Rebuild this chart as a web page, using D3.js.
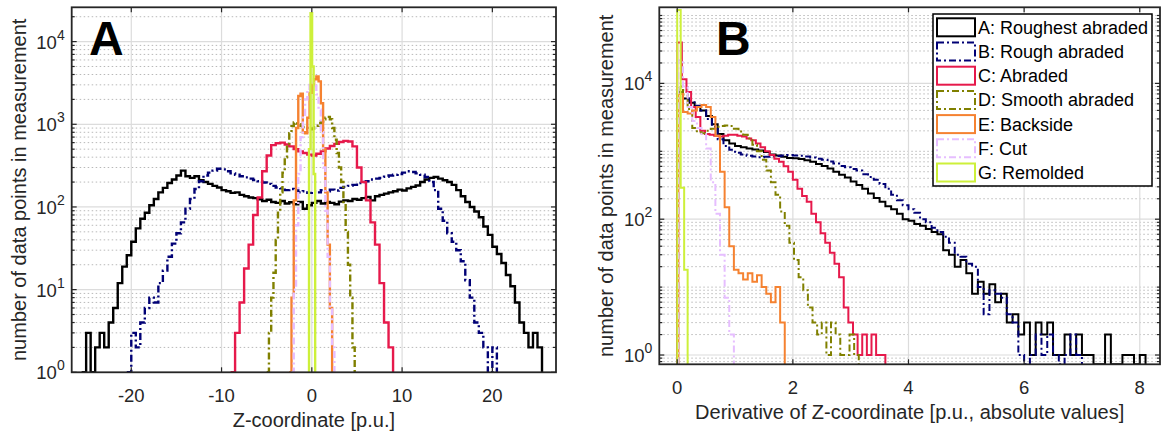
<!DOCTYPE html>
<html>
<head>
<meta charset="utf-8">
<script src="https://cdn.jsdelivr.net/npm/d3@7"></script>
<style>
body { margin: 0; background: #fff; }
svg { display: block; font-family: "Liberation Sans", Arial, sans-serif; }
</style>
</head>
<body>
<svg id="chart" width="1161" height="432"></svg>
<script>
// legend names, one per surface type
var names = ["A: Roughest abraded", "B: Rough abraded", "C: Abraded", "D: Smooth abraded",
             "E: Backside", "F: Cut", "G: Remolded"];

// panel A: histograms of the Z-coordinate (first bin edge, bin width, counts)
var zStart = [-25.5, -20.5, -9, -5, -2.5, -2.25, -0.31];
var zWidth = [0.5, 0.5, 0.5, 0.25, 0.25, 0.25, 0.17];
var zRoughest = [1, 3, 1, 2, 3, 2, 4, 6, 12, 19,
                 26, 38, 55, 72, 85, 105, 125, 150, 170, 195,
                 215, 240, 275, 235, 225, 235, 210, 200, 190, 180,
                 172, 160, 155, 148, 150, 140, 135, 130, 128, 124,
                 118, 122, 115, 112, 118, 110, 114, 108, 115, 95,
                 105, 112, 118, 110, 115, 112, 108, 116, 120, 118,
                 125, 122, 128, 132, 120, 135, 140, 145, 150, 155,
                 162, 158, 168, 175, 182, 200, 215, 225, 230, 220,
                 210, 200, 185, 160, 135, 115, 100, 88, 75, 58,
                 46, 33, 27, 21, 15, 11, 7, 4, 3, 2,
                 3, 2];
var zRough = [1, 3, 2, 4, 6, 8, 7, 12, 17, 25,
              36, 48, 65, 95, 125, 165, 205, 240, 260, 275,
              290, 285, 270, 255, 245, 235, 228, 220, 212, 205,
              198, 190, 180, 172, 168, 160, 165, 158, 150, 155,
              148, 155, 150, 160, 155, 162, 158, 170, 175, 180,
              185, 195, 200, 205, 215, 220, 225, 232, 240, 245,
              250, 260, 270, 265, 255, 245, 230, 200, 160, 95,
              68, 48, 38, 30, 22, 13, 8, 4, 3, 2,
              1, 2];
var zAbraded = [1, 3, 7, 18, 35, 80, 130, 270, 420, 560,
                590, 600, 570, 540, 500, 470, 450, 430, 420, 440,
                470, 510, 545, 580, 610, 630, 620, 540, 300, 200,
                120, 65, 35, 12, 4, 2];
var zSmooth = [1, 3, 8, 16, 40, 85, 150, 260, 400, 560,
               780, 950, 1050, 1020, 1000, 960, 930, 900, 880, 870,
               890, 920, 960, 1030, 1080, 1150, 1200, 1230, 1150, 900,
               650, 450, 300, 200, 110, 50, 20, 8, 2];
var zBackside = [1, 8, 120, 900, 2200, 2350, 800, 780, 1200, 2400,
                 3000, 3500, 3800, 3300, 1800, 500, 150, 35, 6, 1];
var zCut = [1, 10, 60, 250, 700, 1300, 2000, 2600, 3000, 3150,
            2900, 2300, 1500, 800, 300, 90, 25, 6, 2, 1];
var zRemolded = [500, 22000, 5000, 250];

// panel B: histograms of the absolute derivative
var dStart = [0, 0, 0, 0.02, 0.02, 0.02, 0];
var dWidth = [0.1, 0.1, 0.08, 0.08, 0.08, 0.08, 0.06];
var dRoughest = [7500, 6000, 5200, 4600, 4000, 3300, 2500, 1800, 1450, 1300,
                 1200, 1150, 1100, 1060, 1030, 980, 900, 870, 830, 800,
                 790, 770, 740, 700, 650, 610, 560, 500, 450, 410,
                 360, 320, 280, 240, 205, 180, 155, 140, 120, 100,
                 95, 85, 80, 72, 65, 60, 35, 30, 20, 25,
                 16, 8, 12, 8, 11, 6, 8, 3, 4, 2,
                 3, 1, 3, 2, 3, 1, 1, 2, 1, 2,
                 1, 1, 0, 0, 2, 0, 0, 1, 1, 0, 1];
var dRough = [7000, 6000, 5500, 4700, 4000, 3000, 2300, 1500, 1200, 1050,
              950, 900, 860, 840, 820, 830, 840, 850, 870, 880,
              870, 860, 840, 810, 780, 750, 710, 660, 610, 580,
              550, 520, 460, 420, 380, 330, 280, 230, 190, 160,
              140, 125, 100, 90, 75, 65, 55, 45, 30, 28,
              22, 20, 10, 4, 9, 8, 7, 4, 3, 1,
              0, 1, 2, 1, 2, 1, 0, 1, 2, 1];
var dAbraded = [40000, 11500, 7500, 4500, 3200, 2000, 1800, 1750, 1700, 1650,
                1700, 1750, 1750, 1700, 1650, 1550, 1450, 1300, 1150, 1000,
                880, 780, 700, 600, 500, 380, 280, 220, 180, 120,
                90, 62, 45, 32, 22, 14, 5, 3, 2, 1,
                2, 1, 2, 1, 1];
var dSmooth = [9000, 6800, 4200, 2200, 1900, 1850, 2000, 2150, 2300, 2350,
               2400, 2350, 2150, 1950, 1750, 1550, 1250, 1000, 750, 520,
               350, 230, 130, 80, 45, 25, 14, 9, 5, 3,
               2, 3, 1, 3, 2, 1, 1, 2, 1];
var dBackside = [7000, 3800, 3600, 4000, 4500, 4800, 4500, 3200, 1700, 500,
                 150, 40, 18, 16, 13, 16, 12, 15, 10, 8,
                 6, 10, 3];
var dCut = [22000, 9000, 4500, 2800, 2200, 1800, 1100, 350, 120, 30, 7, 2];
var dRemolded = [120000, 290, 18];

// tick values
var zTicks = [-20, -10, 0, 10, 20];
var dTicks = [0, 2, 4, 6, 8];
var zExp = [0, 1, 2, 3, 4];
var dExp = [0, 2, 4];

var colors = ["#000000", "#000075", "#e6194b", "#808000", "#f58231", "#e6beff", "#cdf03a"];
var dashes = [null, "7,3,2,3", null, "7,3,2,3", null, "7,3,2,3", null];

var svg = d3.select("#chart");

function stairs(start, width, counts) {
  var pts = [[start, 0]];
  counts.forEach(function (c, i) {
    pts.push([start + i * width, c]);
    pts.push([start + (i + 1) * width, c]);
  });
  pts.push([start + counts.length * width, 0]);
  return pts;
}

function drawPanel(p) {
  var x = d3.scaleLinear().domain(p.xDomain).range([p.left, p.right]);
  var y = d3.scaleLog().domain(p.yDomain).range([p.bottom, p.top]);
  var g = svg.append("g");

  // minor grid (dotted) and major grid (solid)
  var minor = [];
  for (var e = -1; e <= 5; e++) {
    for (var k = 1; k <= 9; k++) {
      var v = k * Math.pow(10, e);
      if (v < p.yDomain[0] || v > p.yDomain[1]) continue;
      if (k === 1 && p.yExp.indexOf(e) >= 0) continue;
      minor.push(v);
    }
  }
  g.selectAll(".ming").data(minor).enter().append("line")
      .attr("x1", p.left).attr("x2", p.right)
      .attr("y1", function (d) { return y(d); }).attr("y2", function (d) { return y(d); })
      .attr("stroke", "#b9b9b9").attr("stroke-width", 1).attr("stroke-dasharray", "1.5,2.5");
  g.selectAll(".majy").data(p.yExp).enter().append("line")
      .attr("x1", p.left).attr("x2", p.right)
      .attr("y1", function (d) { return y(Math.pow(10, d)); })
      .attr("y2", function (d) { return y(Math.pow(10, d)); })
      .attr("stroke", "#dcdcdc").attr("stroke-width", 1.2);
  g.selectAll(".majx").data(p.xTicks).enter().append("line")
      .attr("x1", function (d) { return x(d); }).attr("x2", function (d) { return x(d); })
      .attr("y1", p.top).attr("y2", p.bottom)
      .attr("stroke", "#dcdcdc").attr("stroke-width", 1.2);

  // clip
  var clipId = "clip" + p.id;
  svg.append("clipPath").attr("id", clipId).append("rect")
      .attr("x", p.left).attr("y", p.top)
      .attr("width", p.right - p.left).attr("height", p.bottom - p.top);

  var line = d3.line()
      .x(function (d) { return x(d[0]); })
      .y(function (d) { return y(Math.max(d[1], p.yDomain[0])); });

  var lines = g.append("g").attr("clip-path", "url(#" + clipId + ")");
  p.series.forEach(function (s, i) {
    lines.append("path")
        .attr("d", line(stairs(p.start[i], p.width[i], s)))
        .attr("fill", "none")
        .attr("stroke", colors[i])
        .attr("stroke-width", p.lineWidth)
        .attr("stroke-linejoin", "miter")
        .attr("stroke-dasharray", dashes[i]);
  });

  // ticks (inside, on all four sides)
  var tk = g.append("g").attr("stroke", "#262626").attr("stroke-width", 1.2);
  p.xTicks.forEach(function (d) {
    tk.append("line").attr("x1", x(d)).attr("x2", x(d)).attr("y1", p.bottom).attr("y2", p.bottom - 5);
    tk.append("line").attr("x1", x(d)).attr("x2", x(d)).attr("y1", p.top).attr("y2", p.top + 5);
  });
  p.yExp.forEach(function (d) {
    var yy = y(Math.pow(10, d));
    tk.append("line").attr("x1", p.left).attr("x2", p.left + 5).attr("y1", yy).attr("y2", yy);
    tk.append("line").attr("x1", p.right).attr("x2", p.right - 5).attr("y1", yy).attr("y2", yy);
  });
  minor.forEach(function (d) {
    var yy = y(d);
    tk.append("line").attr("x1", p.left).attr("x2", p.left + 3).attr("y1", yy).attr("y2", yy);
    tk.append("line").attr("x1", p.right).attr("x2", p.right - 3).attr("y1", yy).attr("y2", yy);
  });

  // box
  g.append("rect")
      .attr("x", p.left).attr("y", p.top)
      .attr("width", p.right - p.left).attr("height", p.bottom - p.top)
      .attr("fill", "none").attr("stroke", "#262626").attr("stroke-width", 1.8);

  // tick labels
  g.selectAll(".xl").data(p.xTicks).enter().append("text")
      .attr("x", function (d) { return x(d); })
      .attr("y", p.bottom + 30)
      .attr("text-anchor", "middle")
      .attr("font-size", 18.5).attr("fill", "#262626")
      .text(function (d) { return d; });
  p.yExp.forEach(function (d) {
    var t = g.append("text")
        .attr("x", p.left - 7).attr("y", y(Math.pow(10, d)) + 7)
        .attr("text-anchor", "end").attr("fill", "#262626").attr("font-size", 18.5);
    t.append("tspan").text("10");
    t.append("tspan").attr("dy", -9).attr("font-size", 14).text(d);
  });

  // axis labels
  g.append("text")
      .attr("x", (p.left + p.right) / 2).attr("y", p.bottom + 55)
      .attr("text-anchor", "middle").attr("font-size", 20).attr("fill", "#262626")
      .text(p.xLabel);
  g.append("text")
      .attr("transform", "translate(" + (p.left - 46) + "," + ((p.top + p.bottom) / 2) + ") rotate(-90)")
      .attr("text-anchor", "middle").attr("font-size", 20).attr("fill", "#262626")
      .text("number of data points in measurement");

  // panel letter
  g.append("text")
      .attr("x", p.letterX).attr("y", 55)
      .attr("font-size", 48).attr("font-weight", "bold").attr("fill", "#000")
      .text(p.id);
}

drawPanel({
  id: "A", left: 71.7, right: 556, top: 7.3, bottom: 372.3,
  xDomain: [-26.6, 27.05], yDomain: [1, 26000],
  xTicks: zTicks, yExp: zExp, lineWidth: 2.4,
  series: [zRoughest, zRough, zAbraded, zSmooth, zBackside, zCut, zRemolded],
  start: zStart, width: zWidth,
  xLabel: "Z-coordinate [p.u.]", letterX: 89
});

drawPanel({
  id: "B", left: 659.3, right: 1160, top: 7.3, bottom: 364.3,
  xDomain: [-0.31, 8.35], yDomain: [0.73, 132000],
  xTicks: dTicks, yExp: dExp, lineWidth: 2,
  series: [dRoughest, dRough, dAbraded, dSmooth, dBackside, dCut, dRemolded],
  start: dStart, width: dWidth,
  xLabel: "Derivative of Z-coordinate [p.u., absolute values]", letterX: 716
});

// legend
var leg = svg.append("g");
leg.append("rect").attr("x", 933).attr("y", 14).attr("width", 219).attr("height", 172)
    .attr("fill", "#fff").attr("stroke", "#000").attr("stroke-width", 1.5);
names.forEach(function (n, i) {
  var cy = 27.3 + i * 24.2;
  leg.append("rect").attr("x", 937).attr("y", cy - 9).attr("width", 38).attr("height", 18)
      .attr("fill", "none").attr("stroke", colors[i]).attr("stroke-width", 2)
      .attr("stroke-dasharray", dashes[i]);
  leg.append("text").attr("x", 978).attr("y", cy + 6.5)
      .attr("font-size", 18).attr("fill", "#000").text(n);
});
</script>
</body>
</html>
